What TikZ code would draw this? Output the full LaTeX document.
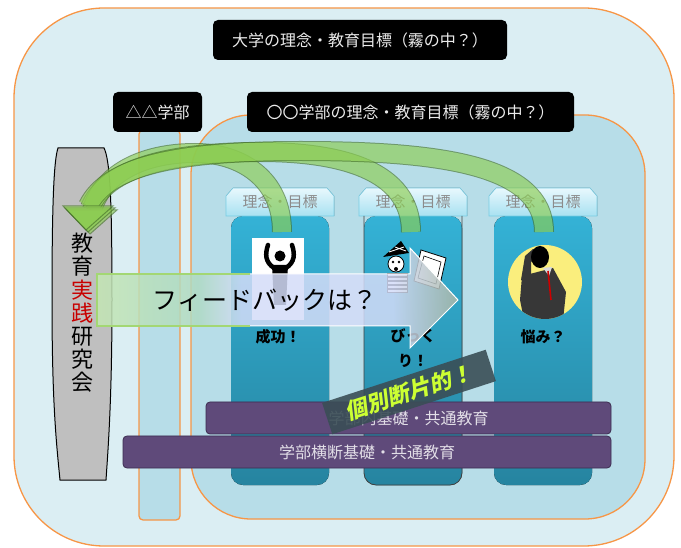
\documentclass[tikz,border=0pt]{standalone}
\usepackage{fontspec}
\newfontfamily\jp{Noto Sans CJK JP}
\newfontfamily\jpslant[FakeSlant=0.2]{Noto Sans CJK JP}
\usetikzlibrary{positioning}

\definecolor{skyfill}{RGB}{219,238,243}
\definecolor{deptfill}{RGB}{183,221,232}
\definecolor{frameorange}{RGB}{247,150,70}
\definecolor{coltop}{RGB}{52,178,214}
\definecolor{colbot}{RGB}{38,132,160}
\definecolor{tabtop}{RGB}{232,248,253}
\definecolor{tabbot}{RGB}{168,225,241}
\definecolor{tabedge}{RGB}{120,205,228}
\definecolor{basepurple}{RGB}{95,74,122}
\definecolor{baseedge}{RGB}{60,45,80}
\definecolor{leafgreen}{RGB}{140,205,80}
\definecolor{leafedge}{RGB}{70,115,40}
\definecolor{fbgreen}{RGB}{196,230,180}
\definecolor{fbmid}{RGB}{175,218,195}
\definecolor{fblav}{RGB}{212,220,248}
\definecolor{fbtip}{RGB}{168,182,165}
\definecolor{slate}{RGB}{58,78,86}
\definecolor{lime}{RGB}{204,255,51}
\definecolor{worryyellow}{RGB}{250,238,125}
\definecolor{suitgray}{RGB}{55,55,55}
\definecolor{practred}{RGB}{200,0,0}
\definecolor{societygray}{RGB}{191,191,191}

% left to right: green tail, lavender body, greyish tip
\pgfdeclarehorizontalshading{feedback}{100bp}{color(0bp)=(fbgreen); color(25bp)=(fbgreen); color(39bp)=(fbmid); color(45bp)=(fblav); color(66bp)=(fblav); color(75bp)=(fbtip); color(100bp)=(fbtip)}

\tikzset{
  frame/.style={draw=frameorange, line width=1.3pt},
  blackbox/.style={fill=black, rounded corners=5pt, text=white!92!black, font=\jp\fontsize{16}{18}\selectfont, inner sep=0pt, minimum height=40pt},
  tabbox/.style={top color=tabtop, bottom color=tabbot, draw=tabedge, line width=0.6pt},
  tabtext/.style={text=black!45, font=\jp\fontsize{15}{17}\selectfont},
  colbar/.style={top color=coltop, bottom color=colbot},
  caption/.style={font=\jp\bfseries\fontsize{15}{25}\selectfont, align=center},
  basebar/.style={fill=basepurple, draw=baseedge, line width=0.8pt, rounded corners=4pt, minimum height=32pt, inner sep=0pt, text=white!82!basepurple, font=\jp\fontsize{16}{18}\selectfont},
  leafshaft/.style={draw=leafedge, line width=1pt, double=leafgreen, double distance=18pt},
  leafhead/.style={fill=leafgreen, draw=leafedge, line width=1pt, line join=miter},
  banner/.style={fill=slate, fill opacity=0.9, text opacity=1, text=lime, font=\jpslant\bfseries\fontsize{22}{24}\selectfont, minimum width=172pt, minimum height=33pt, inner sep=0pt}
}

\begin{document}
\begin{tikzpicture}[x=1pt, y=-1pt]
	\useasboundingbox (0,0) rectangle (681,548);
	\fill[white] (0,0) rectangle (681,548);
	
	% university frame
	\filldraw[frame, fill=skyfill, rounded corners=90pt] (14,8) rectangle (674,546);
	% faculty strips
	\filldraw[frame, fill=deptfill, rounded corners=4pt] (139,130) rectangle (180,520);
	\filldraw[frame, fill=deptfill, rounded corners=60pt] (191,115) rectangle (645,519);
	
	% headings
	\node[blackbox, minimum width=294pt] (univ) at (360,40) {大学の理念・教育目標（霧の中？）};
	\node[blackbox, minimum width=89pt] (deptB) at (157.5,112) {△△学部};
	\node[blackbox, minimum width=327pt] (deptA) at (410.5,112) {〇〇学部の理念・教育目標（霧の中？）};
	
	% the research society on the left
	\filldraw[fill=societygray, draw=black, line width=1pt] (58,148) -- (104,148)
		.. controls (110,160) and (112,200) .. (112,300)
		.. controls (112,400) and (108,450) .. (106,480) -- (60,480)
		.. controls (56,440) and (52,400) .. (52,300)
		.. controls (52,200) and (54,160) .. (58,148) -- cycle;
	\node[font=\jp\fontsize{22}{23.2}\selectfont, align=center, inner sep=0pt] (society) at (82,313)
		{教\\育\\\textcolor{practred}{実}\\\textcolor{practred}{践}\\研\\究\\会};
	
	% columns with their tabs
	\foreach \c/\nm in {280/one, 413/two, 543/three} {
		\fill[colbar, rounded corners=12pt] (\c-49,216) rectangle (\c+49,485);
		\filldraw[tabbox] (\c-54,216) -- (\c-54,196) -- (\c-47,188) -- (\c+47,188) -- (\c+54,196) -- (\c+54,216) -- cycle;
		\node[tabtext] (tab\nm) at (\c,202) {理念・目標};
	}
	\draw[black!75, line width=0.8pt, rounded corners=12pt] (364,216) -- (364,485) -- (462,485) -- (462,216);
	
	% success: raised arms
	\fill[white] (252,238) rectangle (304,320);
	\fill[black] (280,256) circle (5.5);
	\fill[black] (272,265) -- (288,265) -- (286,305) -- (274,305) -- cycle;
	\draw[black, line width=4.5pt, line cap=round] (274,268) .. controls (265,262) and (265,254) .. (268,245);
	\draw[black, line width=4.5pt, line cap=round] (286,268) .. controls (295,262) and (295,254) .. (292,245);
	
	% surprise: clown with a newspaper
	\filldraw[fill=white, draw=black, line width=0.8pt] (421,250) -- (446,258) -- (439,289) -- (414,281) -- cycle;
	\draw[black, line width=0.6pt] (424,256) -- (441,262) -- (436,284) -- (418,278) -- cycle;
	\fill[black] (383,257) -- (401,241) -- (409,253) -- cycle;
	\draw[white, line width=0.8pt] (389,252) -- (404,247) (395,247) -- (406,251);
	\filldraw[fill=white, draw=black, line width=0.8pt] (396,264) circle (8);
	\fill[black] (393,262) circle (1.4) (399,262) circle (1.4) (396,269) circle (2);
	\filldraw[fill=white, draw=black, line width=0.8pt] (387,273) rectangle (407,292);
	\foreach \s in {277,281,...,291}
		\draw[black, line width=1.3pt] (387,\s) -- (407,\s);
	
	% worry: man holding his head
	\fill[worryyellow] (545,282) circle (37);
	\begin{scope}
		\clip (545,282) circle (37);
		\fill[suitgray] (522,276) -- (553,268) -- (566,292) -- (562,330) -- (526,330) -- (520,300) -- cycle;
		\fill[suitgray] (521,280) -- (525,256) -- (533,249) -- (539,255) -- (531,262) -- (531,282) -- cycle;
		\fill[white!85!black] (543,268) -- (552,267) -- (549,276) -- cycle;
		\draw[red!80!black, line width=1.6pt] (548,271) -- (551,300);
		\fill[black] (540,257) ellipse (9 and 11);
	\end{scope}
	
	% column captions
	\node[caption] (cap1) at (278,337) {成功！};
	\node[caption, anchor=north] (cap2) at (413,325) {びっく\\り！};
	\node[caption] (cap3) at (543,337) {悩み？};
	
	% feedback arrows from the columns back to the society
	\begin{scope}[transparency group, opacity=0.65]
		\draw[leafshaft] (282,232) .. controls (282,178) and (240,153) .. (195,153) .. controls (148,153) and (104,170) .. (92,210);
		\filldraw[leafhead] (67,210) -- (117,210) -- (90,234) -- cycle;
	\end{scope}
	\begin{scope}[transparency group, opacity=0.65]
		\draw[leafshaft] (411,232) .. controls (411,170) and (340,152) .. (260,152) .. controls (170,152) and (106,168) .. (90,208);
		\filldraw[leafhead] (65,208) -- (115,208) -- (88,232) -- cycle;
	\end{scope}
	\begin{scope}[transparency group, opacity=0.65]
		\draw[leafshaft] (544,232) .. controls (544,165) and (440,151) .. (300,151) .. controls (180,151) and (108,165) .. (88,206);
		\filldraw[leafhead] (63,206) -- (113,206) -- (86,230) -- cycle;
	\end{scope}
	
	% the big feedback arrow
	\shade[shading=feedback, fill opacity=0.85] (97,274) -- (410,274) -- (410,248) -- (458,300) -- (410,348) -- (410,326) -- (97,326) -- cycle;
	\draw[white, line width=1pt] (250,274) -- (410,274) -- (410,248) -- (458,300) -- (410,348) -- (410,326) -- (250,326);
	\draw[leafgreen!80!white, line width=1.2pt] (250,274) -- (97,274) -- (97,326) -- (250,326);
	\node[font=\jp\fontsize{25}{27}\selectfont] (fbtext) at (265,300) {フィードバックは？};
	
	% common education bars
	\node[basebar, minimum width=405pt] (corebase) at (408.5,418) {学部内基礎・共通教育};
	\node[basebar, minimum width=488pt] (crossbase) at (367,452) {学部横断基礎・共通教育};
	
	% fragmented!
	\node[banner, rotate=18] (fragment) at (409,392) {個別断片的！};
\end{tikzpicture}
\end{document}
